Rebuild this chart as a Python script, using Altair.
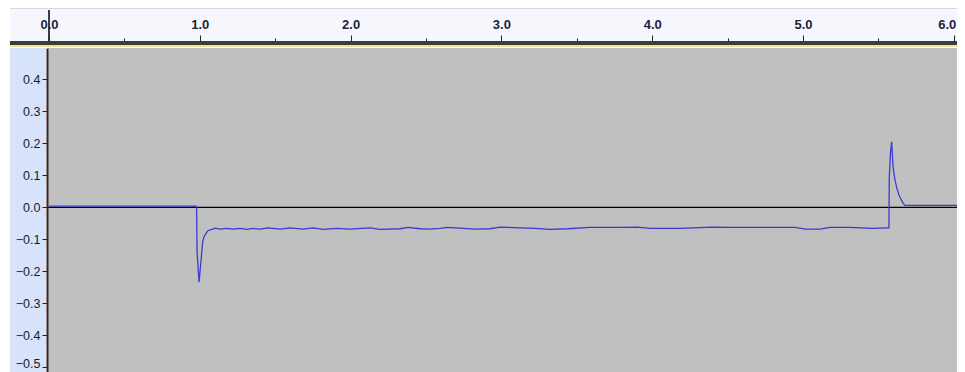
import altair as alt
import pandas as pd

# ---- data ----
time_s = [0.0, 0.975, 0.979, 0.982, 0.995, 1.008, 1.019, 1.028, 1.041, 1.054, 1.081, 1.101,
          1.134, 1.180, 1.220, 1.267, 1.313, 1.353, 1.399, 1.452, 1.532, 1.598, 1.684, 1.751,
          1.817, 1.910, 1.996, 2.129, 2.195, 2.328, 2.381, 2.460, 2.527, 2.593, 2.639, 2.725,
          2.825, 2.924, 2.991, 3.123, 3.223, 3.322, 3.442, 3.588, 3.786, 3.899, 3.985, 4.085,
          4.184, 4.397, 4.516, 4.715, 4.947, 5.013, 5.113, 5.179, 5.312, 5.458, 5.564,
          5.570, 5.572, 5.580, 5.588, 5.597, 5.610, 5.623, 5.637, 5.650, 5.663, 5.676, 6.074]
amplitude = [0.004, 0.004, -0.004, -0.139, -0.234, -0.167, -0.108, -0.092, -0.081, -0.073, -0.069, -0.065,
             -0.068, -0.066, -0.068, -0.066, -0.069, -0.066, -0.068, -0.064, -0.068, -0.064, -0.068, -0.064,
             -0.069, -0.066, -0.068, -0.064, -0.069, -0.067, -0.0625, -0.067, -0.068, -0.066, -0.0625, -0.065,
             -0.068, -0.067, -0.0616, -0.064, -0.066, -0.069, -0.067, -0.0625, -0.0625, -0.0616, -0.066, -0.066,
             -0.066, -0.0616, -0.0625, -0.0625, -0.0625, -0.068, -0.068, -0.0625, -0.0625, -0.066, -0.064,
             -0.064, 0.09, 0.17, 0.205, 0.127, 0.085, 0.059, 0.038, 0.025, 0.013, 0.006, 0.006]
major_ticks = [0, 1, 2, 3, 4, 5, 6]
minor_ticks = [0.5, 1.5, 2.5, 3.5, 4.5, 5.5]
y_ticks = [0.4, 0.3, 0.2, 0.1, 0.0, -0.1, -0.2, -0.3, -0.4, -0.5]

W, H = 909, 324
x_domain = [-0.0066, 6.0212]
y_domain = [-0.5147, 0.498]

wave = pd.DataFrame({"t": time_s, "v": amplitude})
one = pd.DataFrame({"k": [0]})

xs = alt.Scale(domain=x_domain, nice=False, zero=False)
ys = alt.Scale(domain=y_domain, nice=False, zero=False)

y_axis = alt.Axis(values=y_ticks, format=".1f", offset=1, domain=True,
                  domainColor="#3a2020", domainWidth=2, tickSize=5,
                  tickColor="#222222", labelFont="Liberation Sans", labelFontSize=12.5,
                  labelColor="#1a1a2e", labelPadding=2, labelOverlap=False,
                  labelBaseline={"expr": "datum.value < -0.45 ? 'alphabetic' : 'middle'"},
                  labelFlush=False, grid=False, zindex=1)


def rect(x1, x2, y1, y2, color):
    return alt.Chart(one).mark_rect(color=color).encode(
        x=alt.value(x1), x2=alt.value(x2), y=alt.value(y1), y2=alt.value(y2))


ruler_bg = rect(-38, W, -40, -7, "#f5f7fd")
ruler_top = rect(-38, W, -40, -39, "#d6d8de")
dark_band = rect(-38, W, -7, -3, "#3c3c40")
yellow = rect(-38, W, -3, -1, "#eee68e")
left_panel = rect(-38, -2, 0, H, "#d6e3fa")

zero_rule = alt.Chart(one).mark_rule(color="black", strokeWidth=1.4).encode(
    y=alt.Y(datum=0, scale=ys, title=None, axis=y_axis))

line = alt.Chart(wave).mark_line(color="#3a3ad0", strokeWidth=1.3, clip=True).encode(
    x=alt.X("t:Q", scale=xs, title=None,
            axis=alt.Axis(orient="top", values=major_ticks, format=".1f", offset=7,
                          domain=False, tickSize=6, tickColor="#222222", tickWidth=1,
                          labelFont="Liberation Sans", labelFontSize=13, labelFontWeight="bold",
                          labelColor="#1e1e3a", labelPadding=4, labelFlush=False,
                          labelOffset={"expr": "datum.value > 5.5 ? -7 : 0"},
                          labelOverlap=False, grid=False, zindex=1)),
    y=alt.Y("v:Q", scale=ys, title=None, axis=y_axis))

cursor = alt.Chart(one).mark_rule(color="black", strokeWidth=1.5).encode(
    x=alt.X(datum=0, scale=xs, title=None,
            axis=alt.Axis(orient="top", values=minor_ticks, offset=7, domain=False,
                          labels=False, tickSize=3, tickColor="#222222", grid=False, zindex=1)),
    y=alt.value(-38), y2=alt.value(-7))

chart = alt.layer(ruler_bg, ruler_top, dark_band, yellow, left_panel, zero_rule, line, cursor).resolve_axis(
    x="independent").properties(
    width=W, height=H,
    autosize=alt.AutoSizeParams(type="none"),
    padding={"left": 40, "top": 40, "right": 0, "bottom": 0},
    background="white",
).configure_view(fill="#c0c0c0", strokeWidth=0)

chart.save("out.html", embed_options={"renderer": "svg", "actions": False})
